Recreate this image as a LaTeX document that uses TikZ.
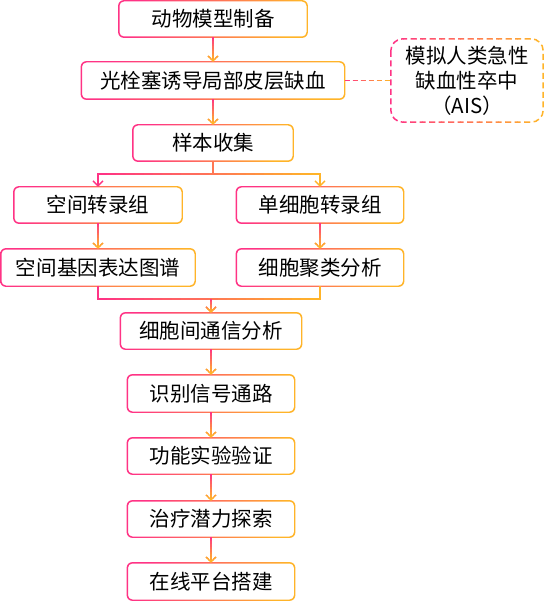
\documentclass[tikz,border=0pt]{standalone}
\usepackage{fontspec}
\newfontfamily\cjk{Noto Sans CJK SC}
\usetikzlibrary{arrows.meta,calc}
\definecolor{pinkc}{HTML}{FF3385}
\definecolor{orangec}{HTML}{FFB429}
\colorlet{gc}{pinkc}

% horizontal gradient (pink left -> orange right) over x-range #1..#2
\newcommand\hgrad[3]{%
  \foreach \k in {0,...,23}{%
    \pgfmathsetmacro\xa{(\k==0) ? (#1-40) : (#1+(#2-#1)*\k/24-0.3)}%
    \pgfmathsetmacro\xb{(\k==23) ? (#2+40) : (#1+(#2-#1)*(\k+1)/24+0.3)}%
    \pgfmathtruncatemacro\pct{100-100*\k/23}%
    \colorlet{gc}{pinkc!\pct!orangec}%
    \begin{scope}
      \clip (\xa,-20) rectangle (\xb,621);
      #3
    \end{scope}}}

% vertical gradient (pink top -> orange bottom) over y-range #1..#2
\newcommand\vgrad[3]{%
  \foreach \k in {0,...,9}{%
    \pgfmathsetmacro\ya{(\k==0) ? (#1-20) : (#1+(#2-#1)*\k/10-0.3)}%
    \pgfmathsetmacro\yb{(\k==9) ? (#2+20) : (#1+(#2-#1)*(\k+1)/10+0.3)}%
    \pgfmathtruncatemacro\pct{100-100*\k/9}%
    \colorlet{gc}{pinkc!\pct!orangec}%
    \begin{scope}
      \clip (-20,\ya) rectangle (567,\yb);
      #3
    \end{scope}}}

% gradient border of a rounded box node
\newcommand\gborder[1]{%
  \shade[even odd rule, left color=pinkc, right color=orangec, shading angle=70]
    [rounded corners=5.7pt] ([shift={(-0.7pt,0.7pt)}]#1.north west) rectangle ([shift={(0.7pt,-0.7pt)}]#1.south east)
    [rounded corners=4.3pt] ([shift={(0.7pt,-0.7pt)}]#1.north west) rectangle ([shift={(-0.7pt,0.7pt)}]#1.south east);}

\tikzset{
  conn/.style={draw=gc, line width=1.3pt},
  arr/.style={conn, -{Straight Barb[length=5pt,width=10pt]}},
  box/.style={fill=white, rounded corners=5pt, inner sep=0pt,
    font=\cjk\fontsize{20.5}{25}\selectfont, text=black, minimum height=36pt},
}

\begin{document}
\begin{tikzpicture}[x=1pt,y=-1pt]
\fill[white] (0,0) rectangle (547,601);
\useasboundingbox (0,0) rectangle (547,601);

\node[box, minimum width=188pt] (n1) at (213,19) {动物模型制备};
\node[box, minimum width=263pt, minimum height=37pt] (n2) at (213,80.5) {光栓塞诱导局部皮层缺血};
\node[box, minimum width=160pt] (n3) at (213,143) {样本收集};
\node[inner sep=0pt, minimum width=152pt, minimum height=83pt, align=center,
  font=\cjk\fontsize{20.5}{25}\selectfont, text=black] (ais) at (467,80.5) {模拟人类急性\\缺血性卒中\\（AIS）};
\node[box, minimum width=168pt] (n4) at (98,205) {空间转录组};
\node[box, minimum width=167pt] (n5) at (320,205) {单细胞转录组};
\node[box, minimum width=194pt, minimum height=37pt] (n6) at (98,267.5) {空间基因表达图谱};
\node[box, minimum width=167pt, minimum height=37pt] (n7) at (320,267.5) {细胞聚类分析};
\node[box, minimum width=181pt] (n8) at (211,331) {细胞间通信分析};
\node[box, minimum width=167pt, minimum height=37pt] (n9) at (211,393.5) {识别信号通路};
\node[box, minimum width=167pt] (n10) at (211,456) {功能实验验证};
\node[box, minimum width=167pt] (n11) at (211,519) {治疗潜力探索};
\node[box, minimum width=167pt, minimum height=37pt] (n12) at (211,581.5) {在线平台搭建};

\foreach \n in {n1,n2,n3,n4,n5,n6,n7,n8,n9,n10,n11,n12}{\gborder{\n}}

\coordinate (f1) at (213,174);
\coordinate (m1) at (211,299);

\vgrad{37}{62}{\draw[arr] (n1.south) -- (n2.north);}
\vgrad{99}{125}{\draw[arr] (n2.south) -- (n3.north);}
\hgrad{98}{320}{\draw[conn] (n3.south) -- (f1); \draw[arr] (f1) -| (n4.north); \draw[arr] (f1) -| (n5.north);}
\vgrad{223}{249}{\draw[arr] (n4.south) -- (n6.north); \draw[arr] (n5.south) -- (n7.north);}
\hgrad{98}{320}{\draw[conn] (n6.south) |- (m1) -| (n7.south);}
\vgrad{299}{313}{\draw[arr] (m1) -- (n8.north);}
\vgrad{349}{375}{\draw[arr] (n8.south) -- (n9.north);}
\vgrad{412}{438}{\draw[arr] (n9.south) -- (n10.north);}
\vgrad{474}{501}{\draw[arr] (n10.south) -- (n11.north);}
\vgrad{537}{563}{\draw[arr] (n11.south) -- (n12.north);}
\hgrad{345}{391}{\draw[conn, dash pattern=on 5pt off 3pt] (n2.east) -- (ais.west);}
\hgrad{391}{543}{\draw[conn, line width=1.5pt, dash pattern=on 6pt off 3.5pt, rounded corners=12pt] (ais.north west) rectangle (ais.south east);}
\end{tikzpicture}
\end{document}
